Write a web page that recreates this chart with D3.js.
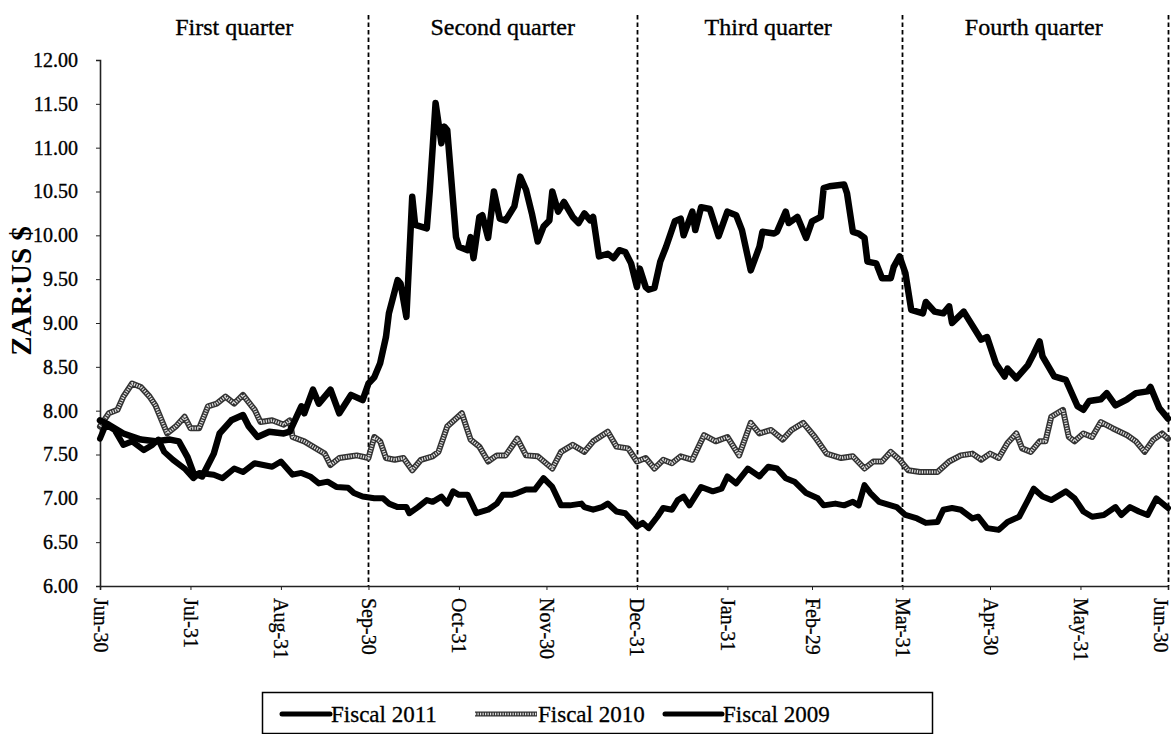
<!DOCTYPE html>
<html><head><meta charset="utf-8">
<script src="https://cdn.jsdelivr.net/npm/d3@7"></script>
<style>
body{margin:0;background:#fff}
svg{display:block}
text{font-family:"Liberation Serif","Times New Roman",serif;fill:#000}
</style>
</head><body>
<svg id="chart" width="1171" height="734"></svg>
<script>
// ---------- data ----------
const fiscalStart = "2011-06-30"; // calendar frame for a leap year (Feb-29 axis tick)
const monthEndDays = [0,31,62,92,123,153,184,215,244,275,305,336,366];
const quarterBoundaryDays = [0,92,184,275,366];
const quarterLabels = ["First quarter","Second quarter","Third quarter","Fourth quarter"];
const yTickValues = [6.0,6.5,7.0,7.5,8.0,8.5,9.0,9.5,10.0,10.5,11.0,11.5,12.0];
const yLabel = "ZAR:US $";
const seriesNames = ["Fiscal 2011","Fiscal 2010","Fiscal 2009"];

const fy2011Days = [0,2,5,8,11,15,18,20,22,25,29,32,34,39,42,46,49,53,56,59,62,66,69,72,75,78,81,85,87,90,94,97,99,102,105,106,109,112,114,117,119,121,123,126,129,133,136,138,141,143,146,149,152,155,158,161,165,166,169,172,174,177,180,183,184,186,188,191,193,196,198,200,202,206,210,213,215,218,222,226,229,232,235,238,242,246,248,252,255,258,260,262,264,267,271,273,276,280,283,287,289,292,295,299,301,304,308,311,315,318,320,323,326,331,334,337,340,344,348,350,353,356,359,362,366];
const fy2011Values = [7.68,7.84,7.78,7.61,7.65,7.55,7.61,7.67,7.53,7.44,7.34,7.23,7.29,7.27,7.23,7.34,7.30,7.40,7.38,7.36,7.42,7.27,7.29,7.25,7.17,7.19,7.13,7.12,7.06,7.02,7.00,7.00,6.94,6.90,6.90,6.83,6.90,6.98,6.96,7.02,6.94,7.08,7.04,7.04,6.83,6.87,6.94,7.04,7.04,7.06,7.10,7.10,7.23,7.13,6.92,6.92,6.94,6.90,6.87,6.90,6.94,6.85,6.83,6.72,6.68,6.72,6.66,6.79,6.89,6.87,6.98,7.02,6.92,7.13,7.08,7.11,7.25,7.17,7.34,7.25,7.36,7.34,7.23,7.19,7.06,7.00,6.92,6.94,6.92,6.96,6.92,7.15,7.06,6.96,6.92,6.90,6.81,6.77,6.72,6.73,6.87,6.89,6.87,6.77,6.79,6.66,6.64,6.73,6.79,6.98,7.11,7.02,6.98,7.08,7.00,6.85,6.79,6.81,6.90,6.81,6.90,6.85,6.81,7.00,6.89];

const fy2010Days = [0,3,6,8,11,14,17,19,23,26,29,31,34,37,40,43,46,49,53,55,59,63,65,66,70,73,77,79,82,86,88,92,94,96,98,101,104,107,110,114,116,119,124,127,130,133,136,139,143,146,150,155,158,162,166,169,174,177,181,184,187,190,193,196,199,203,207,211,215,219,223,226,230,234,237,241,245,249,254,258,262,265,268,271,274,277,281,287,291,295,299,302,305,308,311,314,316,319,322,324,326,330,332,334,337,340,343,347,352,355,358,361,364,366];
const fy2010Values = [7.82,7.97,8.01,8.16,8.31,8.27,8.16,8.06,7.74,7.82,7.93,7.80,7.80,8.05,8.08,8.16,8.08,8.18,8.01,7.87,7.89,7.84,7.89,7.70,7.65,7.59,7.51,7.38,7.46,7.48,7.49,7.46,7.70,7.65,7.46,7.44,7.46,7.32,7.44,7.48,7.53,7.82,7.97,7.67,7.59,7.42,7.49,7.49,7.68,7.49,7.48,7.34,7.53,7.61,7.53,7.65,7.76,7.59,7.57,7.42,7.46,7.34,7.44,7.40,7.48,7.44,7.72,7.65,7.70,7.49,7.86,7.74,7.78,7.67,7.78,7.86,7.70,7.51,7.46,7.48,7.34,7.42,7.42,7.53,7.44,7.32,7.30,7.30,7.42,7.49,7.51,7.44,7.51,7.46,7.63,7.74,7.57,7.53,7.65,7.65,7.93,8.01,7.70,7.65,7.74,7.70,7.87,7.80,7.72,7.65,7.53,7.67,7.74,7.68];

const fy2009Days = [0,3,8,14,19,24,27,30,32,35,39,41,45,49,51,54,58,63,65,69,70,73,75,79,82,86,90,92,94,96,98,99,102,103,105,107,108,112,113,114,115,117,118,119,122,123,126,127,128,130,131,133,135,137,139,142,144,146,148,150,152,154,155,157,159,162,164,166,168,169,171,174,176,178,180,182,184,185,187,188,190,192,194,197,199,200,203,204,206,209,212,215,218,220,223,226,227,231,232,235,236,239,242,244,247,248,250,255,256,258,260,262,263,266,268,271,272,274,276,278,282,283,286,289,291,292,296,302,304,307,310,311,314,318,320,322,323,327,331,335,337,339,343,345,348,352,355,359,360,363,366];
const fy2009Values = [7.89,7.84,7.74,7.67,7.65,7.67,7.65,7.47,7.29,7.25,7.51,7.74,7.89,7.95,7.82,7.70,7.76,7.74,7.76,8.05,7.97,8.24,8.08,8.24,7.97,8.18,8.12,8.31,8.38,8.54,8.84,9.11,9.49,9.45,9.07,10.44,10.12,10.08,10.50,11.00,11.51,11.05,11.24,11.20,9.98,9.87,9.83,9.98,9.74,10.21,10.23,9.97,10.50,10.19,10.17,10.33,10.67,10.52,10.25,9.93,10.10,10.17,10.50,10.27,10.38,10.21,10.14,10.25,10.17,10.21,9.76,9.79,9.74,9.83,9.81,9.68,9.41,9.62,9.41,9.38,9.40,9.70,9.87,10.16,10.19,10.00,10.27,10.06,10.32,10.30,9.99,10.27,10.23,10.06,9.60,9.87,10.04,10.02,10.04,10.27,10.14,10.21,9.97,10.16,10.21,10.54,10.56,10.58,10.48,10.04,10.02,9.97,9.70,9.68,9.51,9.51,9.64,9.76,9.57,9.15,9.11,9.24,9.13,9.11,9.19,9.00,9.13,8.81,8.84,8.54,8.39,8.48,8.37,8.52,8.65,8.79,8.62,8.39,8.35,8.05,8.01,8.11,8.13,8.20,8.06,8.13,8.20,8.22,8.27,8.03,7.91];

// ---------- drawing ----------
const svg = d3.select("#chart");
const W = 1171, H = 734;
const margin = {left:100, right:3, top:60, bottom:148};
const t0 = d3.timeParse("%Y-%m-%d")(fiscalStart);
const toDate = d => d3.timeDay.offset(t0, d);
const serif = '"Liberation Serif","Times New Roman",serif';

const x = d3.scaleTime().domain([toDate(0), toDate(366)]).range([margin.left, W - margin.right]);
const y = d3.scaleLinear().domain([6, 12]).range([H - margin.bottom, margin.top]);

// quarter dividers
svg.append("g").selectAll("line")
  .data(quarterBoundaryDays.slice(1))
  .join("line")
  .attr("x1", d => Math.round(x(toDate(d))) + 0.5)
  .attr("x2", d => Math.round(x(toDate(d))) + 0.5)
  .attr("y1", 15).attr("y2", y(6))
  .attr("stroke", "#000").attr("stroke-width", 1.8)
  .attr("stroke-dasharray", "4.5,3");

// quarter labels
svg.append("g").selectAll("text")
  .data(quarterLabels)
  .join("text")
  .attr("x", (d, i) => x(toDate((quarterBoundaryDays[i] + quarterBoundaryDays[i + 1]) / 2)))
  .attr("y", 35)
  .attr("text-anchor", "middle")
  .style("font-size", "24px")
  .attr("stroke", "#000").attr("stroke-width", 0.35)
  .text(d => d);

// axes
const yAxis = svg.append("g")
  .attr("transform", `translate(${margin.left},0)`)
  .call(d3.axisLeft(y).tickValues(yTickValues).tickFormat(d3.format(".2f")).tickSize(4).tickPadding(18));
yAxis.selectAll("text").style("font-size", "20px").style("font-family", serif)
  .attr("stroke", "#000").attr("stroke-width", 0.35);
yAxis.select(".domain").attr("stroke", "#222").attr("stroke-width", 1.6);
yAxis.selectAll(".tick line").attr("stroke", "#222");

const xAxis = svg.append("g")
  .attr("transform", `translate(0,${y(6)})`)
  .call(d3.axisBottom(x).tickValues(monthEndDays.map(toDate)).tickFormat(d3.timeFormat("%b-%d")).tickSize(4));
xAxis.select(".domain").attr("stroke", "#222").attr("stroke-width", 1.6);
xAxis.selectAll(".tick line").attr("stroke", "#222");
xAxis.selectAll("text")
  .attr("transform", "rotate(90)")
  .attr("x", 12).attr("y", (d, i, n) => i === n.length - 1 ? 8 : 0).attr("dy", "0.35em")
  .style("text-anchor", "start")
  .style("font-size", "20px")
  .style("font-family", serif)
  .attr("stroke", "#000").attr("stroke-width", 0.3);

// y label
svg.append("text")
  .attr("transform", `translate(31,291) rotate(-90)`)
  .attr("text-anchor", "middle")
  .style("font-size", "29px").style("font-weight", "bold")
  .text(yLabel);

// lines
const line = d3.line().x(d => x(toDate(d[0]))).y(d => y(d[1])).curve(d3.curveLinear);
const zip = (a, b) => a.map((d, i) => [d, b[i]]);

const g = svg.append("g").attr("fill", "none").attr("stroke-linejoin", "round").attr("stroke-linecap", "round");
// Fiscal 2010 hatched grey
g.append("path").attr("d", line(zip(fy2010Days, fy2010Values))).attr("stroke", "#333").attr("stroke-width", 6);
g.append("path").attr("d", line(zip(fy2010Days, fy2010Values))).attr("stroke", "#e0e0e0").attr("stroke-width", 3)
  .attr("stroke-dasharray", "1.2,1.3").attr("stroke-linecap", "butt");
// Fiscal 2011
g.append("path").attr("d", line(zip(fy2011Days, fy2011Values))).attr("stroke", "#000").attr("stroke-width", 6);
// Fiscal 2009
g.append("path").attr("d", line(zip(fy2009Days, fy2009Values))).attr("stroke", "#000").attr("stroke-width", 6.5);

// legend
const lg = svg.append("g");
lg.append("rect").attr("x", 262.5).attr("y", 692.5).attr("width", 670).attr("height", 41)
  .attr("fill", "#fff").attr("stroke", "#000").attr("stroke-width", 1.5);
const legendX = [282, 475, 665];
const legendLen = [48, 62, 57];
seriesNames.forEach((name, i) => {
  const x0 = legendX[i], x1 = legendX[i] + legendLen[i], yy = 714;
  if (i === 1) {
    lg.append("line").attr("x1", x0).attr("x2", x1).attr("y1", yy).attr("y2", yy).attr("stroke", "#333").attr("stroke-width", 5);
    lg.append("line").attr("x1", x0).attr("x2", x1).attr("y1", yy).attr("y2", yy).attr("stroke", "#e0e0e0").attr("stroke-width", 2.4).attr("stroke-dasharray", "1.2,1.3");
  } else {
    lg.append("line").attr("x1", x0).attr("x2", x1).attr("y1", yy).attr("y2", yy).attr("stroke", "#000").attr("stroke-width", 5).attr("stroke-linecap", "round");
  }
  lg.append("text").attr("x", x1 + 1).attr("y", 722).style("font-size", "23px")
    .attr("stroke", "#000").attr("stroke-width", 0.3).text(name);
});
</script>
</body></html>
